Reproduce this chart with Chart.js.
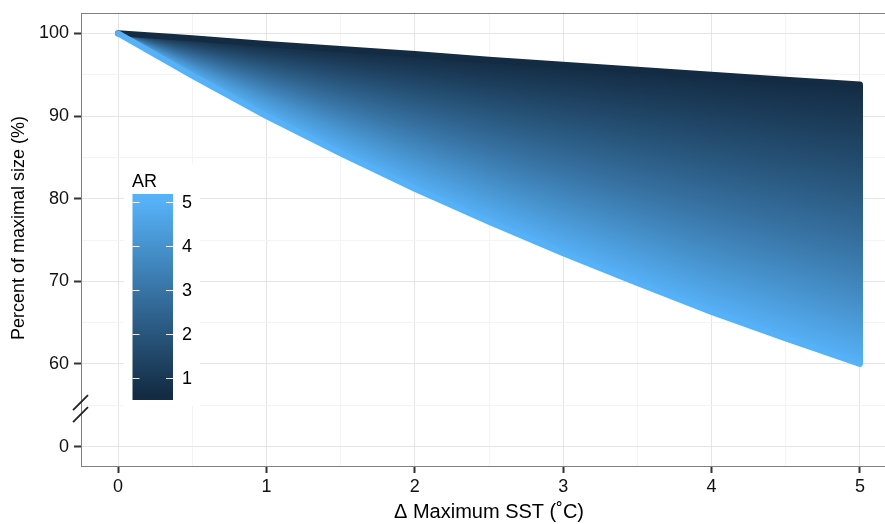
<!DOCTYPE html>
<html>
<head>
<meta charset="utf-8">
<script src="https://cdn.jsdelivr.net/npm/chart.js@4.4.1/dist/chart.umd.min.js"></script>
<style>
html, body { margin: 0; padding: 0; overflow: hidden; background: #fff; }
canvas { display: block; }
</style>
</head>
<body>
<canvas id="chart" width="900" height="524"></canvas>
<script>
// warming steps (x) and size (% of maximal) for a few AR levels
const sstValues = [0, 0.5, 1, 1.5, 2, 2.5, 3, 3.5, 4, 4.5, 5];
const arLevels = [0.6, 1, 2, 3, 4, 5];
const sizeAR06 = [100, 99.4, 98.7, 98.1, 97.5, 96.8, 96.2, 95.6, 95.0, 94.4, 93.8];
const sizeAR1 = [100, 99.0, 98.0, 97.0, 96.0, 95.0, 94.1, 93.1, 92.2, 91.2, 90.3];
const sizeAR2 = [100, 98.0, 96.0, 94.1, 92.2, 90.3, 88.5, 86.7, 84.9, 83.2, 81.5];
const sizeAR3 = [100, 97.0, 94.1, 91.2, 88.5, 85.8, 83.2, 80.7, 78.3, 75.9, 73.6];
const sizeAR4 = [100, 96.0, 92.2, 88.5, 84.9, 81.5, 78.3, 75.2, 72.1, 69.3, 66.5];
const sizeAR5 = [100, 94.9, 90.0, 85.5, 81.2, 77.2, 73.4, 69.8, 66.3, 63.1, 60.0];
const sizeByAR = [sizeAR06, sizeAR1, sizeAR2, sizeAR3, sizeAR4, sizeAR5];

// y axis is broken: position 50 carries the "0" label
const yTickValues = [50, 55, 60, 65, 70, 75, 80, 85, 90, 95, 100];
const yTickLabels = ['0', '', '60', '', '70', '', '80', '', '90', '', '100'];
const xTickValues = [0, 0.5, 1, 1.5, 2, 2.5, 3, 3.5, 4, 4.5, 5];
const xTickLabels = ['0', '', '1', '', '2', '', '3', '', '4', '', '5'];
const arTicks = [1, 2, 3, 4, 5];

const FONT = "'Liberation Sans', Arial, sans-serif";
const lowColor = [19, 43, 67];
const highColor = [86, 177, 247];
const arMin = arLevels[0], arMax = arLevels[arLevels.length - 1];

function arColor(a) {
    const f = Math.min(1, Math.max(0, (a - arMin) / (arMax - arMin)));
    const c = lowColor.map((v, i) => Math.round(v + (highColor[i] - v) * f));
    return 'rgb(' + c.join(',') + ')';
}

function isMajor(labels, values, v) {
    const i = values.indexOf(v);
    return i >= 0 && labels[i] !== '';
}

// fills the fan between the AR lines, column by column, with a vertical gradient
const fanFill = {
    id: 'fanFill',
    beforeDatasetsDraw(chart) {
        const ctx = chart.ctx;
        const area = chart.chartArea;
        const metas = chart.data.datasets.map((d, k) => chart.getDatasetMeta(k).data);
        const base = metas[0];
        const n = base.length;
        ctx.save();
        ctx.beginPath();
        ctx.rect(area.left, area.top, area.right - area.left, area.bottom - area.top);
        ctx.clip();
        let i = 0;
        for (let px = Math.floor(base[0].x); px <= base[n - 1].x + 3; px++) {
            while (i < n - 2 && base[i + 1].x < px) i++;
            let t = (px - base[i].x) / (base[i + 1].x - base[i].x);
            t = Math.min(1, Math.max(0, t));
            const ys = metas.map(p => p[i].y + (p[i + 1].y - p[i].y) * t);
            const yTop = ys[0], yBot = ys[ys.length - 1];
            if (yBot - yTop < 1) {
                ctx.fillStyle = arColor((arMin + arMax) / 2);
                ctx.fillRect(px, yTop - 0.5, 1, 1);
                continue;
            }
            const g = ctx.createLinearGradient(0, yTop, 0, yBot);
            ys.forEach((y, k) => g.addColorStop((y - yTop) / (yBot - yTop), arColor(arLevels[k])));
            ctx.fillStyle = g;
            ctx.fillRect(px, yTop, 1, yBot - yTop);
        }
        ctx.restore();
    }
};

// panel border, y title, colour bar legend and the axis break marks
const decorations = {
    id: 'decorations',
    afterDraw(chart) {
        const ctx = chart.ctx;
        const a = chart.chartArea;
        ctx.save();
        ctx.strokeStyle = '#808080';
        ctx.lineWidth = 1;
        ctx.strokeRect(Math.round(a.left) + 0.5, Math.round(a.top) + 0.5,
            Math.round(a.right - a.left), Math.round(a.bottom - a.top));

        ctx.save();
        ctx.translate(19, 228);
        ctx.rotate(-Math.PI / 2);
        ctx.fillStyle = '#000';
        ctx.font = '18px ' + FONT;
        ctx.textAlign = 'center';
        ctx.textBaseline = 'middle';
        ctx.fillText('Percent of maximal size (%)', 0, 0);
        ctx.restore();

        // colour bar
        const barX = 132.5, barW = 40.5;
        const yAR = v => 378 - (v - 1) * 44.1;
        ctx.fillStyle = '#fff';
        ctx.fillRect(124, 164, 76, 242);
        ctx.fillStyle = '#000';
        ctx.font = '18px ' + FONT;
        ctx.textAlign = 'left';
        ctx.textBaseline = 'alphabetic';
        ctx.fillText('AR', 132, 187);
        const g = ctx.createLinearGradient(0, yAR(arMax), 0, yAR(arMin));
        g.addColorStop(0, arColor(arMax));
        g.addColorStop(1, arColor(arMin));
        ctx.fillStyle = g;
        ctx.fillRect(barX, 194, barW, 206);
        ctx.strokeStyle = 'rgba(255,255,255,0.9)';
        ctx.lineWidth = 1;
        ctx.fillStyle = '#000';
        ctx.textBaseline = 'middle';
        arTicks.forEach(v => {
            const y = Math.round(yAR(v)) + 0.5;
            ctx.beginPath();
            ctx.moveTo(barX, y); ctx.lineTo(barX + 7, y);
            ctx.moveTo(barX + barW - 7, y); ctx.lineTo(barX + barW, y);
            ctx.stroke();
            ctx.fillText(String(v), 182, yAR(v) + 1);
        });

        // break marks on the y axis
        const cy = chart.scales.y.getPixelForValue(54.6);
        ctx.strokeStyle = '#222';
        ctx.lineWidth = 1.8;
        ctx.beginPath();
        [-5.9, 5.9].forEach(d => {
            ctx.moveTo(a.left - 8, cy + d + 7.5);
            ctx.lineTo(a.left + 7, cy + d - 7.5);
        });
        ctx.stroke();
        ctx.restore();
    }
};

const last = arLevels.length - 1;
const datasets = sizeByAR.map((vals, k) => {
    const edge = k === 0 || k === last;
    return {
        label: 'AR ' + arLevels[k],
        data: sstValues.map((x, i) => ({ x: x, y: vals[i] })),
        borderColor: arColor(arLevels[k]),
        borderWidth: edge ? 6 : 0,
        showLine: edge,
        borderCapStyle: 'round',
        borderJoinStyle: 'round',
        pointRadius: 0,
        fill: false,
        tension: 0,
        order: k === last ? 0 : (k === 0 ? 1 : 2)
    };
});

const ctx = document.getElementById('chart').getContext('2d');
const myChart = new Chart(ctx, {
    type: 'line',
    data: { datasets: datasets },
    options: {
        responsive: false,
        animation: false,
        events: [],
        layout: { padding: { top: 12.7, right: 3, left: 0, bottom: 0 } },
        plugins: { legend: { display: false }, tooltip: { enabled: false } },
        scales: {
            x: {
                type: 'linear',
                min: -0.25,
                max: 5.25,
                afterBuildTicks: s => { s.ticks = xTickValues.map(v => ({ value: v })); },
                afterFit: s => { s.height = 58; s.paddingLeft = 0; s.paddingRight = 0; },
                border: { display: false },
                grid: {
                    color: c => isMajor(xTickLabels, xTickValues, c.tick.value) ? '#E5E5E5' : '#F4F4F4',
                    tickColor: c => isMajor(xTickLabels, xTickValues, c.tick.value) ? '#333' : 'rgba(0,0,0,0)',
                    tickLength: 7,
                    tickWidth: 2
                },
                ticks: {
                    autoSkip: false,
                    maxRotation: 0,
                    padding: 3,
                    color: '#111',
                    font: { family: FONT, size: 18 },
                    callback: v => xTickLabels[xTickValues.indexOf(v)]
                },
                title: {
                    display: true,
                    text: 'Δ Maximum SST (˚C)',
                    color: '#000',
                    font: { family: FONT, size: 20 },
                    padding: { top: 0, bottom: 0 }
                }
            },
            y: {
                type: 'linear',
                min: 47.66,
                max: 102.5,
                afterBuildTicks: s => { s.ticks = yTickValues.map(v => ({ value: v })); },
                afterFit: s => { s.width = 81; s.paddingTop = 0; s.paddingBottom = 0; },
                border: { display: false },
                grid: {
                    color: c => isMajor(yTickLabels, yTickValues, c.tick.value) ? '#E5E5E5' : '#F4F4F4',
                    tickColor: c => isMajor(yTickLabels, yTickValues, c.tick.value) ? '#333' : 'rgba(0,0,0,0)',
                    tickLength: 7,
                    tickWidth: 2
                },
                ticks: {
                    autoSkip: false,
                    padding: 5,
                    color: '#111',
                    font: { family: FONT, size: 18 },
                    callback: v => yTickLabels[yTickValues.indexOf(v)]
                }
            }
        }
    },
    plugins: [fanFill, decorations]
});
</script>
</body>
</html>
